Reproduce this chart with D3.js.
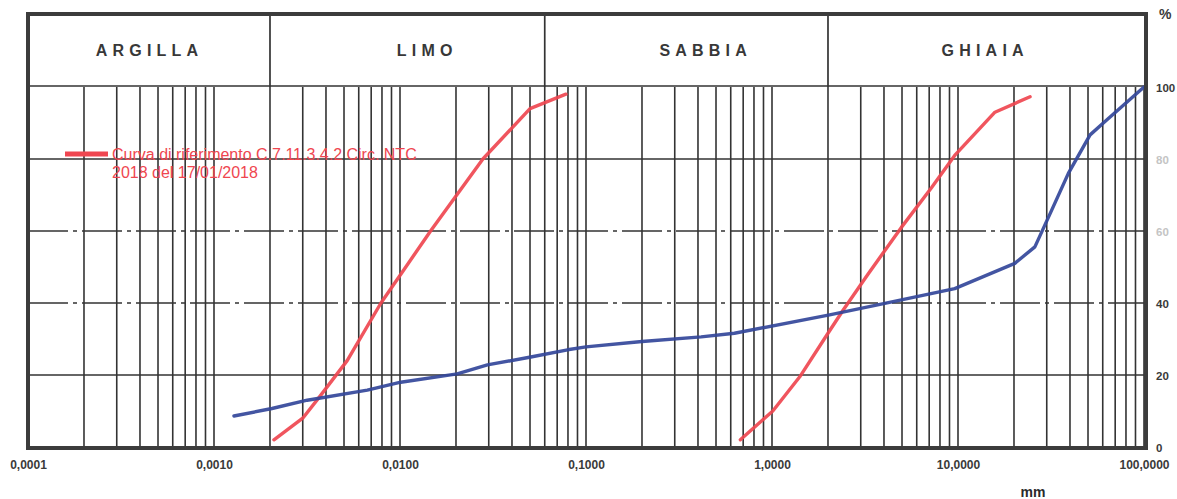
<!DOCTYPE html>
<html>
<head>
<meta charset="utf-8">
<script src="https://cdn.jsdelivr.net/npm/d3@7"></script>
<style>
  html, body { margin: 0; padding: 0; background: #fff; }
  svg { display: block; font-family: "Liberation Sans", Arial, sans-serif; }
</style>
</head>
<body>
<svg id="chart" width="1177" height="499"></svg>
<script>
// ---------- DATA ----------
// Reference curve (fine side) : [diameter mm, % passing]
const refFine = [
  [0.0021, 2], [0.003, 8], [0.0037, 14], [0.0052, 24], [0.0079, 40],
  [0.0101, 48], [0.0146, 60], [0.0279, 80], [0.05, 94], [0.078, 98]
];
// Reference curve (coarse side)
const refCoarse = [
  [0.676, 2], [1.01, 10], [1.41, 19.5], [2.0, 31.6], [2.41, 38], [3.28, 48],
  [4.96, 61], [7.2, 72], [9.6, 81], [15.8, 93], [24.4, 97.3]
];
// Sample grading curve
const sample = [
  [0.00128, 8.6], [0.00205, 10.7], [0.00317, 13], [0.00667, 15.8], [0.0101, 18],
  [0.0203, 20.3], [0.0295, 22.8], [0.0505, 25], [0.0796, 27], [0.1, 27.8],
  [0.2, 29.3], [0.416, 30.6], [0.628, 31.6], [2.04, 36.7], [4.04, 39.9],
  [9.6, 44], [20.2, 51], [25.9, 55.6], [31.9, 65.8], [39.2, 76], [51.3, 86.7],
  [61.7, 90.4], [100, 100]
];
// Soil classes: name, limits (mm), label anchor (mm)
const classNames = ["ARGILLA", "LIMO", "SABBIA", "GHIAIA"];
const classLimits = [0.0001, 0.002, 0.06, 2, 100];
const classLabelAt = [0.00045, 0.014, 0.44, 14];
// Axis ticks
const xTicks = [0.0001, 0.001, 0.01, 0.1, 1, 10, 100];
const xTickLabels = ["0,0001", "0,0010", "0,0100", "0,1000", "1,0000", "10,0000", "100,0000"];
const yTicks = [0, 20, 40, 60, 80, 100];
const yTickLabels = ["0", "20", "40", "60", "80", "100"];
const legendLines = ["Curva di riferimento C.7.11.3.4.2 Circ. NTC", "2018 del 17/01/2018"];

// ---------- DRAW ----------
const svg = d3.select("#chart");
const x = d3.scaleLog().domain([0.0001, 100]).range([28, 1144]);
const y = d3.scaleLinear().domain([0, 100]).range([447, 87]);
const headerTop = 14;
const gridColor = "#333333";
const redC = "#ef4650";
const blueC = "#33469a";

// vertical grid lines (1..9 per decade)
const vLines = [];
for (let e = -4; e < 2; e++) for (let m = 1; m <= 9; m++) vLines.push(m * Math.pow(10, e));
vLines.push(100);
svg.append("g").selectAll("line").data(vLines).join("line")
  .attr("x1", d => x(d)).attr("x2", d => x(d))
  .attr("y1", y(100)).attr("y2", y(0))
  .attr("stroke", gridColor).attr("stroke-width", 1.6);

// horizontal grid lines
svg.append("g").selectAll("line").data([20, 40, 60, 80]).join("line")
  .attr("x1", x(0.0001)).attr("x2", x(100))
  .attr("y1", d => y(d)).attr("y2", d => y(d))
  .attr("stroke", gridColor).attr("stroke-width", 1.5)
  .attr("stroke-dasharray", d => (d === 40 || d === 60) ? "40,5,4,5" : null);

// header line (100%) and class separators
svg.append("line").attr("x1", x(0.0001)).attr("x2", x(100))
  .attr("y1", y(100) - 1).attr("y2", y(100) - 1)
  .attr("stroke", gridColor).attr("stroke-width", 1.7);
svg.append("g").selectAll("line").data(classLimits.slice(1, -1)).join("line")
  .attr("x1", d => x(d)).attr("x2", d => x(d))
  .attr("y1", headerTop).attr("y2", y(100))
  .attr("stroke", gridColor).attr("stroke-width", 1.7);
svg.append("g").selectAll("text").data(classNames).join("text")
  .attr("x", (d, i) => x(classLabelAt[i]))
  .attr("y", 56)
  .attr("text-anchor", "middle")
  .attr("font-size", 16).attr("font-weight", "bold")
  .attr("letter-spacing", 5.2)
  .attr("fill", "#383838")
  .text(d => d);

// curves
const line = d3.line().x(d => x(d[0])).y(d => y(d[1]));
[[refFine, redC], [refCoarse, redC], [sample, blueC]].forEach(([data, c]) => {
  svg.append("path").datum(data).attr("d", line)
    .attr("fill", "none").attr("stroke", c).attr("stroke-width", 3.4)
    .attr("stroke-linejoin", "round").attr("stroke-linecap", "round")
    .attr("opacity", 0.92);
});

// outer frame
svg.append("path")
  .attr("d", `M${x(0.0001)},${y(0) + 1} V${headerTop} H${x(100) + 2} V${y(0) + 1} Z`)
  .attr("fill", "none").attr("stroke", "#3c3c3c").attr("stroke-width", 4);

// x axis
const xAxis = d3.axisBottom(x).tickValues(xTicks).tickSize(0)
  .tickFormat((d, i) => xTickLabels[i]);
const gx = svg.append("g").attr("transform", `translate(0,${y(0) + 10})`).call(xAxis);
gx.select(".domain").remove();
gx.selectAll("text").attr("font-size", 12).attr("font-weight", "bold")
  .attr("fill", "#3a3a3a").attr("font-family", "Liberation Sans, Arial, sans-serif");

// y axis (right)
const yAxis = d3.axisRight(y).tickValues(yTicks).tickSize(0)
  .tickFormat((d, i) => yTickLabels[i]);
const gy = svg.append("g").attr("transform", `translate(${x(100) + 9},1)`).call(yAxis);
gy.select(".domain").remove();
gy.selectAll("text").attr("font-size", 11.5).attr("font-weight", "bold")
  .attr("fill", d => (d === 60 || d === 80) ? "#c4c4c4" : "#3a3a3a")
  .attr("font-family", "Liberation Sans, Arial, sans-serif");

// units
svg.append("text").attr("x", 1159).attr("y", 19).attr("font-size", 14)
  .attr("font-weight", "bold").attr("fill", "#3a3a3a").text("%");
svg.append("text").attr("x", 1033).attr("y", 497).attr("text-anchor", "middle")
  .attr("font-size", 14).attr("font-weight", "bold").attr("fill", "#2a2a2a").text("mm");

// legend
svg.append("line").attr("x1", 65).attr("x2", 108).attr("y1", 154).attr("y2", 154)
  .attr("stroke", redC).attr("stroke-width", 5);
svg.append("g").selectAll("text").data(legendLines).join("text")
  .attr("x", 112).attr("y", (d, i) => 160 + i * 18)
  .attr("font-size", 16).attr("fill", redC)
  .text(d => d);
</script>
</body>
</html>
